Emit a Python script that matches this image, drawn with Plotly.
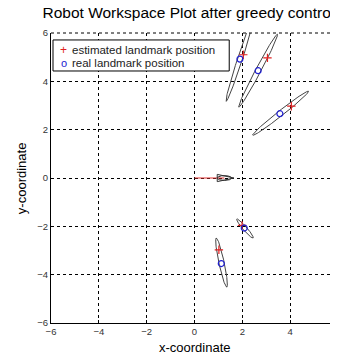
import numpy as np
import plotly.graph_objects as go

# Landmark estimates (red +) and real positions (blue o)
est_x = [2.04, 3.05, 4.05, 1.99, 1.02]
est_y = [5.10, 4.97, 2.97, -1.96, -2.97]
real_x = [1.90, 2.66, 3.57, 2.08, 1.12]
real_y = [4.92, 4.44, 2.66, -2.07, -3.54]

# Uncertainty ellipses: centre, semi-axes, orientation (deg)
ell_cx = [1.90, 2.66, 3.60, 2.11, 1.13]
ell_cy = [4.92, 4.44, 2.68, -2.09, -3.50]
ell_a = [1.84, 1.71, 1.48, 0.52, 1.04]
ell_b = [0.10, 0.11, 0.11, 0.08, 0.11]
ell_ang = [71.7, 61.8, 37.9, -49.0, -77.8]

# Robot trajectory and pose
traj_x = [0.0, 0.5, 1.0, 1.25]
traj_y = [0.0, 0.0, 0.0, 0.0]
robot_x, robot_y, robot_th = 1.25, 0.0, 0.0
robot_shape_x = [0.4, -0.3, -0.3, 0.4]
robot_shape_y = [0.0, 0.15, -0.15, 0.0]
robot_ell_a, robot_ell_b = 0.3, 0.1

ticks = [-6, -4, -2, 0, 2, 4, 6]
legend_labels = ["estimated landmark position", "real landmark position"]

RED = "#e02020"
BLUE = "#2020d0"

fig = go.Figure()

t = np.linspace(0, 2 * np.pi, 120)
for cx, cy, a, b, ang in zip(ell_cx, ell_cy, ell_a, ell_b, ell_ang):
    th = np.deg2rad(ang)
    ex = cx + a * np.cos(t) * np.cos(th) - b * np.sin(t) * np.sin(th)
    ey = cy + a * np.cos(t) * np.sin(th) + b * np.sin(t) * np.cos(th)
    fig.add_trace(go.Scatter(x=ex, y=ey, mode="lines", line=dict(color="#444444", width=1),
                             showlegend=False, hoverinfo="skip"))

fig.add_trace(go.Scatter(x=traj_x, y=traj_y, mode="lines", line=dict(color="#e03030", width=1),
                         showlegend=False))
c, s = np.cos(robot_th), np.sin(robot_th)
rx = [robot_x + px * c - py * s for px, py in zip(robot_shape_x, robot_shape_y)]
ry = [robot_y + px * s + py * c for px, py in zip(robot_shape_x, robot_shape_y)]
fig.add_trace(go.Scatter(x=rx, y=ry, mode="lines", line=dict(color="#333333", width=1),
                         showlegend=False))
fig.add_trace(go.Scatter(x=robot_x + robot_ell_a * np.cos(t), y=robot_y + robot_ell_b * np.sin(t),
                         mode="lines", line=dict(color="#333333", width=1), showlegend=False))

fig.add_trace(go.Scatter(x=est_x, y=est_y, mode="markers", name=legend_labels[0], showlegend=False,
                         marker=dict(symbol="cross-thin", size=6, line=dict(color=RED, width=1.2))))
fig.add_trace(go.Scatter(x=real_x, y=real_y, mode="markers", name=legend_labels[1], showlegend=False,
                         marker=dict(symbol="circle-open", size=6, color=BLUE, line=dict(width=1.2))))

axis_common = dict(range=[-6, 6], tickvals=ticks, showgrid=True, gridcolor="#000000",
                   griddash="dot", gridwidth=1, zeroline=False, showline=True, linecolor="#000000",
                   linewidth=1, mirror=False, ticks="inside", ticklen=3, tickcolor="#000000",
                   tickfont=dict(size=9.5, color="#333333"))

# dotted frame at the top and right (grid lines at the range ends)
shapes = [
    dict(type="line", xref="paper", yref="paper", x0=0, x1=1, y0=1, y1=1,
         line=dict(color="#000000", width=1, dash="dot")),
    dict(type="line", xref="paper", yref="paper", x0=1, x1=1, y0=0, y1=1,
         line=dict(color="#000000", width=1, dash="dot")),
    # legend box
    dict(type="rect", xref="paper", yref="paper", x0=0.007, x1=0.621, y0=0.869, y1=0.976,
         fillcolor="white", line=dict(color="#000000", width=1), layer="above"),
]

annotations = []
leg_y = [0.941, 0.897]
leg_sym = ["+", "o"]
leg_col = [RED, BLUE]
for lab, yy, sym, col in zip(legend_labels, leg_y, leg_sym, leg_col):
    annotations.append(dict(xref="paper", yref="paper", x=0.045, y=yy, text=sym, showarrow=False,
                            xanchor="center", yanchor="middle",
                            font=dict(size=12 if sym == "+" else 11, color=col)))
    annotations.append(dict(xref="paper", yref="paper", x=0.066, y=yy, text=lab, showarrow=False,
                            xanchor="left", yanchor="middle", font=dict(size=11.5, color="#222222")))

# axis titles as annotations for exact placement
annotations.append(dict(xref="paper", yref="paper", x=0.5, y=-0.083, text="x-coordinate",
                        showarrow=False, xanchor="center", yanchor="middle", font=dict(size=13)))
annotations.append(dict(xref="paper", yref="paper", x=-0.104, y=0.5, text="y-coordinate",
                        showarrow=False, xanchor="center", yanchor="middle", textangle=-90,
                        font=dict(size=13)))

fig.update_layout(
    width=338, height=354,
    margin=dict(l=43, r=5, t=25, b=39),
    paper_bgcolor="white", plot_bgcolor="white",
    font=dict(family="Liberation Sans, Arial, sans-serif", color="#000000"),
    title=dict(text="Robot Workspace Plot after greedy control", xref="container", x=0.102,
               xanchor="left", y=0.986, yanchor="middle", font=dict(size=15.5)),
    xaxis=dict(**axis_common),
    yaxis=dict(**axis_common),
    shapes=shapes,
    annotations=annotations,
    showlegend=False,
)

fig.write_html("out.html")
